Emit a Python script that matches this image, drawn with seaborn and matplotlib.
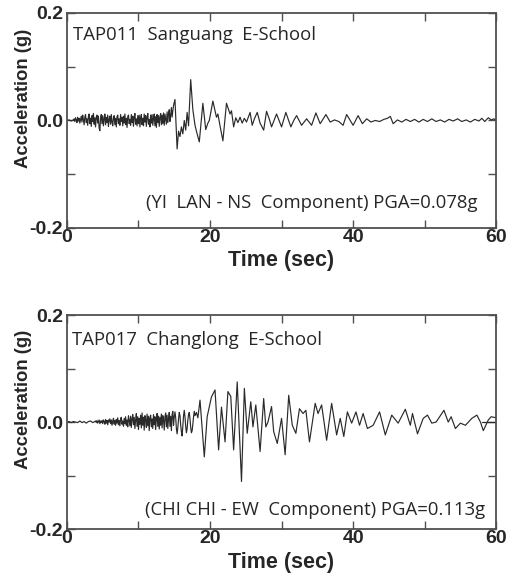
import numpy as np
import pandas as pd
import matplotlib
matplotlib.use("Agg")
import matplotlib.pyplot as plt
import seaborn as sns

# ---------------- data ----------------
# Panel 1: TAP011 Sanguang E-School, YI LAN NS component
# quiet start
top_t_0 = [0.0, 0.3, 0.6, 0.9]
top_a_0 = [0.000, 0.001, -0.001, 0.001]
# dense low-level noise, sampled every 0.1 s from 1.0 s
top_noise_start = 1.0
top_noise_a = [
    0.003, -0.002, 0.005, 0.001, -0.004, 0.006, -0.001, 0.004, -0.005, 0.002,
    0.008, -0.003, 0.010, 0.002, -0.008, 0.006, 0.011, -0.004, 0.003, -0.009,
    0.007, 0.012, -0.006, 0.004, -0.011, 0.009, -0.002, 0.013, -0.007, 0.005,
    -0.012, 0.006, 0.010, -0.005, 0.008, -0.014, -0.019, 0.004, 0.011, -0.006,
    0.009, -0.010, 0.003, 0.012, -0.008, 0.006, -0.004, 0.010, -0.011, 0.002,
    0.008, -0.007, 0.011, -0.003, -0.010, 0.005, 0.009, -0.008, 0.004, -0.012,
    0.007, 0.010, -0.006, 0.003, -0.009, 0.011, -0.002, 0.006, -0.010, 0.008,
    -0.005, 0.012, -0.008, 0.004, -0.013, 0.007, 0.010, -0.006, 0.002, -0.009,
    0.011, -0.004, 0.008, -0.011, 0.006, 0.013, -0.007, 0.003, -0.010, 0.009,
    -0.006, 0.010, -0.012, 0.005, 0.011, -0.008, 0.004, -0.010, 0.012, -0.003,
    0.009, -0.011, 0.006, 0.013, -0.007, 0.002, -0.012, 0.010, -0.005, 0.011,
    -0.009, 0.004, 0.012, -0.010, 0.007, -0.013, 0.011, -0.004, 0.009, -0.011,
    0.006, 0.013, -0.008, 0.010, -0.006, 0.014, -0.009, 0.012, 0.003, -0.007,
    0.016, -0.004, 0.012, 0.020, -0.002, 0.010, 0.024, 0.006, 0.018, 0.028]
# strong motion and coda (peaks / troughs)
top_t_b = [15.1, 15.4, 15.6, 15.8, 16.0, 16.2, 16.4, 16.6, 16.8, 17.0, 17.3, 17.6, 17.9, 18.1, 18.5,
           19.0, 19.4, 19.7, 19.9, 20.4, 20.9, 21.1, 21.4, 21.8, 22.3, 22.6, 22.8, 23.0, 23.3, 23.6,
           23.9, 24.2, 24.5, 24.8, 25.1]
top_a_b = [0.039, -0.053, -0.020, -0.030, -0.012, -0.025, 0.000, -0.018, 0.015, -0.010, 0.076, 0.020, -0.009, -0.020, -0.040,
           0.032, -0.017, -0.005, 0.000, 0.036, 0.006, 0.012, -0.010, -0.038, 0.032, 0.020, 0.012, 0.018, -0.012, 0.005,
           -0.004, 0.006, -0.005, 0.004, -0.003]
top_t_c = [25.6, 25.9, 26.2, 26.6, 27.0, 27.5, 27.9, 28.3, 28.6, 29.3, 30.0, 30.6, 31.3, 31.7, 32.1,
           32.8, 33.5, 34.2, 34.8, 35.4, 36.2, 36.8, 37.4, 38.0, 38.6, 39.1, 39.6, 40.0, 40.7, 41.3,
           41.9, 42.5, 43.1, 43.7, 44.3, 44.8, 45.2, 45.6, 46.2, 46.8, 47.4, 48.0, 48.6, 49.2, 49.8,
           50.4, 51.0, 51.6, 52.2, 52.8, 53.4, 54.0, 54.6, 55.2, 55.8, 56.4, 57.0, 57.6, 58.0, 58.4,
           58.9, 59.3, 59.7, 60.0]
top_a_c = [0.015, -0.009, 0.003, 0.015, -0.005, -0.018, 0.017, 0.002, -0.012, 0.012, -0.012, 0.015, -0.012, 0.000, 0.009,
           -0.009, 0.003, -0.009, 0.014, -0.006, 0.011, -0.003, 0.001, -0.002, -0.009, 0.011, 0.000, -0.009, 0.009, -0.006,
           0.003, -0.003, 0.000, -0.002, 0.002, 0.004, 0.0075, -0.006, 0.001, -0.003, 0.002, -0.002, 0.002, -0.003, 0.002,
           -0.002, 0.003, -0.002, 0.001, -0.003, 0.002, -0.001, 0.003, -0.002, 0.001, -0.003, 0.002, -0.001, 0.004, -0.002,
           0.005, 0.001, 0.003, -0.001]

# Panel 2: TAP017 Changlong E-School, CHI CHI EW component
bot_t_0 = [0.0, 0.3, 0.6, 0.9, 1.2, 1.5, 1.8, 2.1, 2.4, 2.7, 3.0, 3.3, 3.6, 3.9]
bot_a_0 = [0.000, 0.001, -0.001, 0.001, 0.000, -0.001, 0.002, -0.001, 0.001, -0.002, 0.001, 0.002, -0.001, 0.001]
bot_noise_start = 4.0
bot_noise_a = [
    0.002, -0.001, 0.003, -0.002, 0.001, 0.004, -0.003, 0.002, -0.001, 0.003,
    -0.003, 0.004, 0.001, -0.004, 0.005, -0.002, 0.003, -0.005, 0.004, 0.000,
    0.006, -0.003, 0.004, -0.006, 0.002, 0.007, -0.004, 0.003, -0.006, 0.005,
    -0.002, 0.008, -0.005, 0.003, -0.007, 0.006, 0.009, -0.004, 0.002, -0.008,
    0.007, -0.003, 0.010, -0.006, 0.004, -0.009, 0.012, 0.003, -0.007, 0.011,
    -0.010, 0.006, 0.014, -0.005, 0.009, -0.012, 0.004, 0.016, -0.008, 0.010,
    -0.014, 0.007, -0.004, 0.013, -0.011, 0.017, -0.006, 0.009, -0.015, 0.012,
    0.004, -0.010, 0.015, -0.007, 0.011, -0.016, 0.008, 0.013, -0.009, 0.006,
    -0.012, 0.014, -0.005, 0.010, -0.014, 0.006, 0.016, -0.008, 0.011, -0.013,
    0.009, -0.006, 0.015, -0.011, 0.012, 0.004, -0.015, 0.010, 0.017, -0.009,
    0.013, -0.012, 0.006, 0.018, -0.008, 0.011, -0.016, 0.014, 0.020, -0.006,
    0.010, 0.019, 0.008, -0.012, -0.022, -0.010, 0.006, 0.018, 0.012, -0.006,
    -0.018, -0.026, -0.008, 0.012, 0.022, 0.010, -0.008, -0.020, -0.012, 0.004,
    0.014, 0.018, 0.006, -0.010, -0.020, -0.016, -0.004, 0.010, 0.020, 0.012]
bot_t_b = [18.1, 18.3, 18.6, 19.2, 19.6, 20.2, 20.7, 21.2, 21.6, 22.1, 22.5, 22.9, 23.3, 23.8, 24.4, 24.8, 25.2,
           25.7, 26.0, 26.4, 27.0, 27.5, 27.8, 28.1, 28.6, 28.9, 29.4, 30.0, 30.5, 31.0, 31.5, 32.0,
           32.5, 33.0, 33.4, 33.9, 34.7, 35.1, 35.6, 36.3, 37.0, 37.7, 38.2, 38.7, 39.2, 39.8, 40.4,
           40.9, 41.4, 42.0, 42.8, 43.7, 44.5, 45.4, 46.3, 47.3, 48.0, 48.3, 49.0, 49.8, 50.4, 51.0,
           51.6, 52.7, 53.3, 53.7, 54.3, 55.0, 55.7, 56.6, 57.3, 57.8, 58.2, 58.9, 59.3, 60.0]
bot_a_b = [0.018, 0.008, 0.041, -0.065, 0.010, 0.047, 0.060, -0.052, 0.028, -0.037, 0.057, 0.048, -0.052, 0.075, -0.111, 0.063, -0.021,
           0.038, -0.009, 0.032, -0.055, 0.044, -0.009, 0.000, 0.029, -0.018, -0.040, 0.007, -0.061, 0.050, -0.006, -0.021,
           0.025, 0.016, 0.022, -0.037, 0.035, 0.016, 0.032, -0.034, 0.035, -0.024, 0.007, -0.027, 0.019, -0.002, 0.019,
           -0.006, 0.016, -0.012, -0.006, 0.019, -0.024, 0.013, -0.002, 0.024, -0.006, 0.016, -0.022, 0.007, 0.013, -0.002,
           0.000, 0.022, 0.000, 0.010, -0.012, -0.002, -0.006, 0.007, 0.013, 0.000, -0.016, 0.004, 0.010, 0.008]
# short zero reference segment near the end of panel 2
bot_zero_t = [58.0, 60.0]
bot_zero_a = [0.0, 0.0]


def noise_times(start, vals):
    return [round(start + 0.1 * i, 2) for i in range(len(vals))]


panels = [
    dict(t=top_t_0 + noise_times(top_noise_start, top_noise_a) + top_t_b + top_t_c,
         a=top_a_0 + top_noise_a + top_a_b + top_a_c,
         title="TAP011  Sanguang  E-School",
         note="(YI  LAN - NS  Component) PGA=0.078g", extra=None),
    dict(t=bot_t_0 + noise_times(bot_noise_start, bot_noise_a) + bot_t_b,
         a=bot_a_0 + bot_noise_a + bot_a_b,
         title="TAP017  Changlong  E-School",
         note="(CHI CHI - EW  Component) PGA=0.113g",
         extra=(bot_zero_t, bot_zero_a)),
]

x_ticks = [0, 10, 20, 30, 40, 50, 60]
x_tick_labels = ["0", "", "20", "", "40", "", "60"]
y_ticks = [-0.2, -0.1, 0.0, 0.1, 0.2]
y_tick_labels = ["-0.2", "", "0.0", "", "0.2"]

# ---------------- figure ----------------
sns.set_style("ticks")
plt.rcParams["font.family"] = ["Liberation Sans", "DejaVu Sans"]

fig = plt.figure(figsize=(5.11, 5.77), dpi=100)
ax_rects = [[0.131, 0.605, 0.840, 0.3725], [0.131, 0.083, 0.840, 0.371]]
text_pos = [((0.014, 0.898), (0.956, 0.116)), ((0.012, 0.883), (0.974, 0.089))]
spine_col = "#505050"
line_col = "#2a2a2a"

for p, rect, (tp, np_) in zip(panels, ax_rects, text_pos):
    ax = fig.add_axes(rect)
    df = pd.DataFrame({"t": p["t"], "a": p["a"]})
    sns.lineplot(data=df, x="t", y="a", ax=ax, color=line_col, lw=0.85,
                 estimator=None, sort=False)
    if p["extra"] is not None:
        sns.lineplot(x=p["extra"][0], y=p["extra"][1], ax=ax, color=line_col,
                     lw=0.9, estimator=None, sort=False)
    ax.set_xlim(0, 60)
    ax.set_ylim(-0.2, 0.2)
    ax.set_xticks(x_ticks)
    ax.set_xticklabels(x_tick_labels, fontsize=14, fontweight="bold")
    ax.set_yticks(y_ticks)
    ax.set_yticklabels(y_tick_labels, fontsize=14, fontweight="bold")
    ax.tick_params(direction="in", length=6, width=1.0, color=spine_col,
                   top=True, right=True)
    ax.tick_params(axis="x", pad=1)
    ax.tick_params(axis="y", pad=3)
    for s in ax.spines.values():
        s.set_color(spine_col)
        s.set_linewidth(1.3)
    ax.set_xlabel("Time (sec)", fontsize=15.5, fontweight="bold", labelpad=3)
    ax.set_ylabel("Acceleration (g)", fontsize=13.3, fontweight="bold")
    ax.yaxis.set_label_coords(-0.082, 0.605)
    ax.text(tp[0], tp[1], p["title"], transform=ax.transAxes, fontsize=13.3,
            ha="left", va="center", family=["Open Sans", "DejaVu Sans"])
    ax.text(np_[0], np_[1], p["note"], transform=ax.transAxes, fontsize=13.3,
            ha="right", va="center", family=["Open Sans", "DejaVu Sans"])

fig.savefig("out.png", dpi=100)
